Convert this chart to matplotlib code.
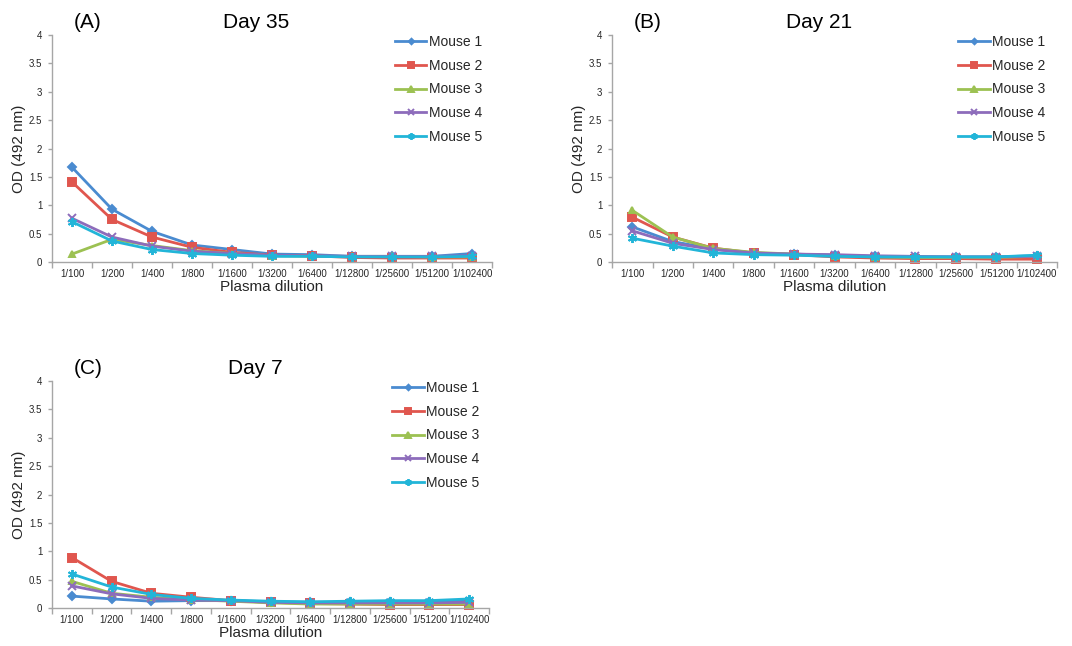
import matplotlib
matplotlib.use("Agg")
import matplotlib.pyplot as plt
from matplotlib.ticker import FixedLocator, NullFormatter

plt.rcParams['font.family'] = ['Liberation Sans', 'DejaVu Sans']

dilutions = ["1/100", "1/200", "1/400", "1/800", "1/1600", "1/3200",
             "1/6400", "1/12800", "1/25600", "1/51200", "1/102400"]
mice = ["Mouse 1", "Mouse 2", "Mouse 3", "Mouse 4", "Mouse 5"]

# OD readings at 492 nm, one list per mouse
day35_m1 = [1.67, 0.93, 0.54, 0.30, 0.22, 0.14, 0.13, 0.10, 0.10, 0.10, 0.15]
day35_m2 = [1.41, 0.75, 0.44, 0.26, 0.17, 0.12, 0.11, 0.08, 0.07, 0.07, 0.07]
day35_m3 = [0.14, 0.40, 0.29, 0.20, 0.15, 0.11, 0.10, 0.10, 0.10, 0.09, 0.09]
day35_m4 = [0.77, 0.44, 0.28, 0.19, 0.15, 0.12, 0.11, 0.10, 0.10, 0.10, 0.11]
day35_m5 = [0.71, 0.37, 0.22, 0.15, 0.12, 0.10, 0.10, 0.09, 0.09, 0.09, 0.10]

day21_m1 = [0.62, 0.36, 0.23, 0.15, 0.14, 0.12, 0.10, 0.09, 0.09, 0.09, 0.11]
day21_m2 = [0.79, 0.44, 0.245, 0.16, 0.13, 0.09, 0.07, 0.06, 0.06, 0.05, 0.05]
day21_m3 = [0.91, 0.44, 0.24, 0.17, 0.14, 0.11, 0.09, 0.08, 0.08, 0.08, 0.10]
day21_m4 = [0.55, 0.33, 0.22, 0.16, 0.14, 0.13, 0.11, 0.10, 0.09, 0.09, 0.10]
day21_m5 = [0.42, 0.28, 0.16, 0.13, 0.12, 0.10, 0.09, 0.09, 0.09, 0.09, 0.12]

day7_m1 = [0.21, 0.16, 0.12, 0.13, 0.13, 0.11, 0.10, 0.10, 0.11, 0.11, 0.12]
day7_m2 = [0.89, 0.47, 0.26, 0.19, 0.13, 0.10, 0.08, 0.07, 0.06, 0.06, 0.06]
day7_m3 = [0.47, 0.26, 0.19, 0.15, 0.12, 0.09, 0.07, 0.07, 0.07, 0.07, 0.07]
day7_m4 = [0.39, 0.25, 0.17, 0.14, 0.13, 0.10, 0.09, 0.09, 0.09, 0.09, 0.10]
day7_m5 = [0.60, 0.37, 0.24, 0.17, 0.14, 0.12, 0.11, 0.12, 0.13, 0.13, 0.16]

colors = ["#4a8bd0", "#e0564e", "#9cc152", "#8d6cbb", "#22b5d8"]
markers = ["D", "s", "^", "x", (6, 2, 0)]
msizes = [3.8, 5.5, 5, 6, 6.5]

panels = [
    ("(A)", "Day 35", [day35_m1, day35_m2, day35_m3, day35_m4, day35_m5],
     [0.0485, 0.5944, 0.4105, 0.3514]),
    ("(B)", "Day 21", [day21_m1, day21_m2, day21_m3, day21_m4, day21_m5],
     [0.571, 0.5944, 0.415, 0.3514]),
    ("(C)", "Day 7", [day7_m1, day7_m2, day7_m3, day7_m4, day7_m5],
     [0.0485, 0.0588, 0.4077, 0.3514]),
]

fig = plt.figure(figsize=(10.72, 6.46), dpi=100)
axis_gray = "#a6a6a6"
text_col = "#262626"

for letter, day, series, rect in panels:
    ax = fig.add_axes(rect)
    x = list(range(len(dilutions)))
    for vals, name, c, m, ms in zip(series, mice, colors, markers, msizes):
        ax.plot(x, vals, color=c, lw=2, marker=m, ms=ms, mfc=c, mec=c,
                mew=1.4, label=name, clip_on=False)
    ax.set_xlim(-0.5, len(dilutions) - 0.5)
    ax.set_ylim(0, 4)
    ax.set_yticks([0, 0.5, 1, 1.5, 2, 2.5, 3, 3.5, 4])
    ax.set_yticklabels(["0", "0.5", "1", "1.5", "2", "2.5", "3", "3.5", "4"])
    ax.set_xticks(x)
    ax.set_xticklabels(dilutions)
    ax.xaxis.set_minor_locator(FixedLocator([i - 0.5 for i in range(len(dilutions) + 1)]))
    ax.xaxis.set_minor_formatter(NullFormatter())
    ax.tick_params(axis="x", which="major", length=0, labelsize=7,
                   labelcolor=text_col, pad=5)
    ax.tick_params(axis="x", which="minor", length=4, color=axis_gray, width=1)
    ax.tick_params(axis="y", length=3, color=axis_gray, width=1, labelsize=7,
                   labelcolor=text_col, pad=4)
    for s in ("top", "right"):
        ax.spines[s].set_visible(False)
    for s in ("left", "bottom"):
        ax.spines[s].set_color(axis_gray)
        ax.spines[s].set_linewidth(1)
    ax.set_xlabel("Plasma dilution", fontsize=11, color=text_col, labelpad=1)
    ax.set_ylabel("OD (492 nm)", fontsize=11, color=text_col, labelpad=2)
    leg = ax.legend(loc="upper left", bbox_to_anchor=(0.75, 1.055), frameon=False,
                    fontsize=10, handlelength=2.3, handletextpad=0.15,
                    labelspacing=0.7, markerscale=0.75)
    for t in leg.get_texts():
        t.set_color(text_col)
    x0, y0, w, h = rect
    top = y0 + h
    fig.text(x0 + 36 / 1072, top + 13 / 646, letter, fontsize=15,
             ha="center", va="center", color="black")
    fig.text(x0 + w * 0.465, top + 13 / 646, day, fontsize=15,
             ha="center", va="center", color="black")

fig.savefig("out.png", dpi=100, facecolor="white")
